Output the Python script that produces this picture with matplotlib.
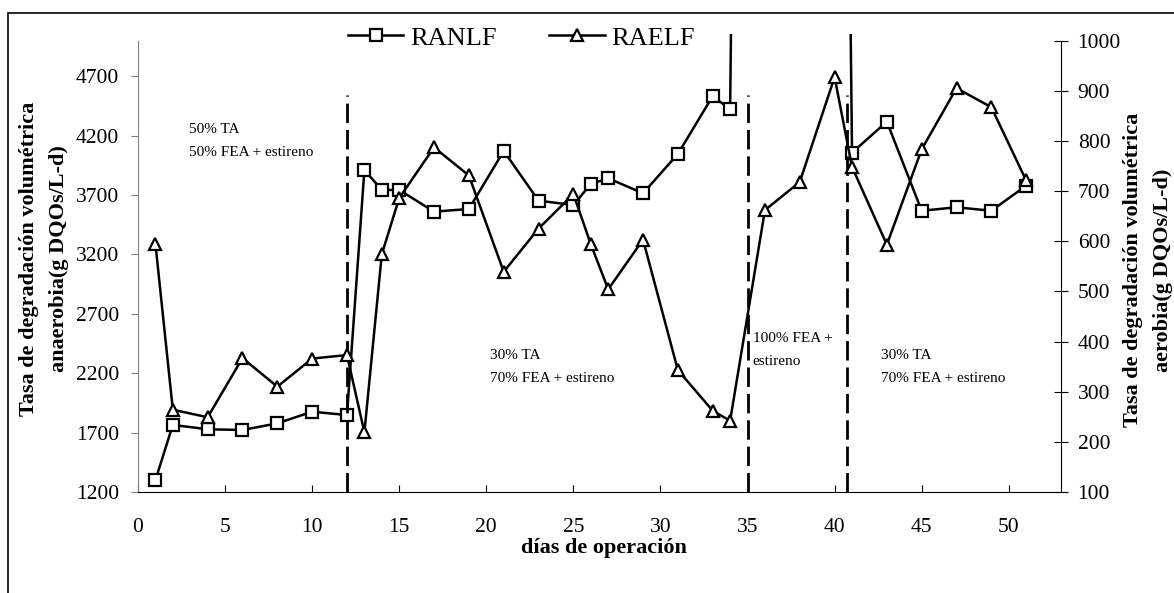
import matplotlib.pyplot as plt
from matplotlib.patches import Rectangle

plt.rcParams['font.family'] = ['Liberation Serif', 'DejaVu Serif']

# RANLF (eje izquierdo), el punto de 37.5 queda fuera de escala
dias_ranlf = [1, 2, 4, 6, 8, 10, 12, 13, 14, 15, 17, 19, 21, 23, 25, 26, 27,
              29, 31, 33, 34, 37.5, 41, 43, 45, 47, 49, 51]
ranlf = [1300, 1765, 1728, 1722, 1778, 1876, 1848, 3911, 3743, 3743, 3560,
         3583, 4071, 3653, 3616, 3793, 3841, 3715, 4046, 4533, 4422, 50000,
         4057, 4318, 3568, 3597, 3568, 3779]

# RAELF (eje derecho)
dias_raelf = [1, 2, 4, 6, 8, 10, 12, 13, 14, 15, 17, 19, 21, 23, 25, 26, 27,
              29, 31, 33, 34, 36, 38, 40, 41, 43, 45, 47, 49, 51]
raelf = [595, 264, 249, 367, 310, 366, 373, 219, 574, 686, 787, 731, 539,
         625, 694, 594, 504, 603, 343, 262, 242, 662, 718, 927, 748, 593,
         783, 905, 867, 721]

# cambios de etapa
etapas = [12, 35, 40.7]

xticks = list(range(0, 55, 5))
yticks_izq = list(range(1200, 5000, 500))
yticks_der = list(range(100, 1100, 100))

fig = plt.figure(figsize=(11.74, 5.93), dpi=100)
ax = fig.add_axes([138 / 1174, 1 - 492 / 593, 923 / 1174, 458 / 593])
ax2 = ax.twinx()

# marco de la figura (recortado a la derecha y abajo)
fig.patches.append(Rectangle((8 / 1174, -0.1), 2, 1.1 - 13 / 593,
                             transform=fig.transFigure, fill=False,
                             lw=1.2, color='black'))

l1, = ax.plot(dias_ranlf, ranlf, color='black', lw=1.8, marker='s', ms=8,
              mfc='white', mec='black', mew=1.6)
l2, = ax2.plot(dias_raelf, raelf, color='black', lw=1.8, marker='^', ms=9,
               mfc='white', mec='black', mew=1.6)

ax.vlines(etapas, 1200, 4540, colors='black', lw=2,
          linestyles=[(0, (7, 2.5))])

ax.set_xlim(0, 53)
ax.set_ylim(1200, 5056)
ax2.set_ylim(100, 1013)
ax.set_xticks(xticks)
ax.set_yticks(yticks_izq)
ax2.set_yticks(yticks_der)

for s in ['top', 'right']:
    ax.spines[s].set_visible(False)
for s in ['top', 'left', 'bottom']:
    ax2.spines[s].set_visible(False)
ax.spines['left'].set_bounds(1200, 5000)
ax.spines['left'].set_color('#808080')
ax2.spines['right'].set_bounds(100, 1000)

ax.tick_params(axis='x', direction='in', length=5, pad=18.5, labelsize=15.5)
ax.tick_params(axis='y', direction='out', length=5, color='#808080', pad=8.7,
               labelsize=15.5)
ax2.tick_params(axis='y', direction='inout', length=10, pad=7, labelsize=15.5)

ax.set_xlabel('días de operación', fontsize=16, fontweight='bold')
ax.xaxis.set_label_coords(0.505, -0.133)
ax.xaxis.label.set_va('baseline')

ax.set_ylabel('Tasa de degradación volumétrica\nanaerobia(g DQOs/L-d)',
              fontsize=16, fontweight='bold', linespacing=1.7)
ax.yaxis.set_label_coords(-0.102, 0.509)
ax.yaxis.label.set_va('center')

ax2.set_ylabel('Tasa de degradación volumétrica\naerobia(g DQOs/L-d)',
               fontsize=16, fontweight='bold', linespacing=1.65)
ax2.yaxis.set_label_coords(1.094, 0.485)
ax2.yaxis.label.set_va('center')
ax2.yaxis.label.set_rotation(90)

ax.text(2.93, 4028, '50% TA\n50% FEA + estireno', fontsize=11,
        va='baseline', linespacing=2.0)
ax.text(20.23, 2126, '30% TA\n70% FEA + estireno', fontsize=11,
        va='baseline', linespacing=2.0)
ax.text(35.29, 2269, '100% FEA +\nestireno', fontsize=11,
        va='baseline', linespacing=2.0)
ax.text(42.64, 2126, '30% TA\n70% FEA + estireno', fontsize=11,
        va='baseline', linespacing=2.0)

fig.legend([l1, l2], ['RANLF', 'RAELF'], loc='center left',
           bbox_to_anchor=(348 / 1174, 1 - 38 / 593), ncol=2, frameon=False,
           fontsize=19, handlelength=2.1, handletextpad=0.25,
           columnspacing=2.0, borderpad=0, borderaxespad=0)

fig.savefig('out.png', dpi=100)
